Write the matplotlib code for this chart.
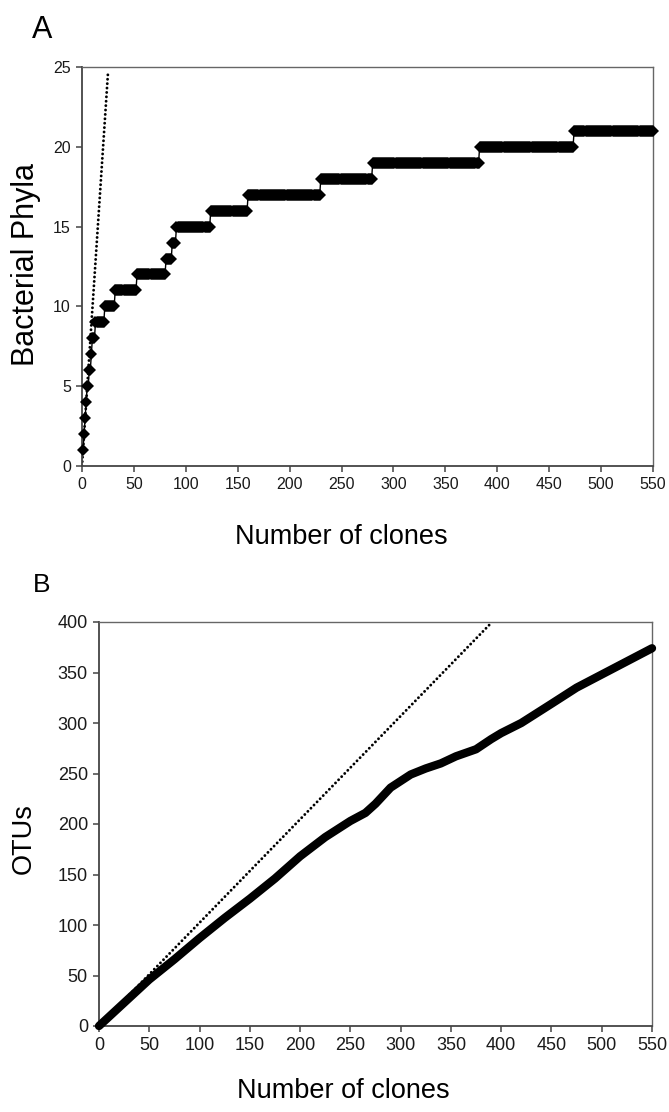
import numpy as np
import matplotlib.pyplot as plt

# Panel A: clone number at which each new phylum level is first reached
phyla_levels = list(range(1, 22))
phyla_first_clone = [1, 2, 3, 4, 5, 7, 9, 10, 13, 22, 32, 53, 81, 87, 91,
                     124, 160, 230, 280, 383, 474]
total_clones = 550

# Panel B: OTU accumulation
otu_clones = [0, 25, 50, 75, 100, 125, 150, 175, 200, 225, 250, 265, 275,
              290, 310, 325, 340, 355, 375, 390, 400, 420, 450, 475, 500,
              525, 550]
otu_counts = [0, 23, 46, 66, 87, 107, 126, 146, 168, 187, 203, 211, 220,
              236, 249, 255, 260, 267, 274, 284, 290, 300, 319, 335, 348,
              361, 374]

# dotted reference lines (start, end)
ref_a_x = [0, 25]
ref_a_y = [0, 24.6]
ref_b_x = [0, 391]
ref_b_y = [0, 400]

plt.rcParams.update({
    "font.family": ["Liberation Sans", "DejaVu Sans"],
    "axes.edgecolor": "#444444",
    "xtick.color": "#444444",
    "ytick.color": "#444444",
    "xtick.labelcolor": "#1a1a1a",
    "ytick.labelcolor": "#1a1a1a",
})

W, H = 669, 1112
fig = plt.figure(figsize=(W / 100, H / 100), dpi=100)


def style_axes(ax, labelsize):
    for side in ["top", "right"]:
        ax.spines[side].set_linewidth(1.0)
        ax.spines[side].set_color("#666666")
    for side in ["left", "bottom"]:
        ax.spines[side].set_linewidth(1.3)
    ax.tick_params(direction="out", length=4, width=1.1, labelsize=labelsize, pad=4)


def dotted(ax, xs, ys):
    ax.plot(xs, ys, color="black", linewidth=2.1, linestyle=(0, (0.01, 1.5)),
            dash_capstyle="round", zorder=2)


# ---- panel A
axA = fig.add_axes([82 / W, 1 - 466 / H, 571 / W, 399 / H])
clones = np.arange(1, total_clones + 1)
phyla = np.searchsorted(phyla_first_clone, clones, side="right")
axA.plot(clones, phyla, color="black", linewidth=1.0, marker="D",
         markersize=6.3, markeredgewidth=0, clip_on=False, zorder=3)
dotted(axA, ref_a_x, ref_a_y)
axA.set_xlim(0, 550)
axA.set_ylim(0, 25)
axA.set_xticks(range(0, 551, 50))
axA.set_yticks(range(0, 26, 5))
style_axes(axA, 11.5)
axA.set_xlabel("Number of clones", fontsize=19.5)
axA.set_ylabel("Bacterial Phyla", fontsize=22)
axA.xaxis.set_label_coords(0.4536, -0.146)
axA.yaxis.set_label_coords(-0.071, 0.504)
fig.text(32 / W, 1 - 38 / H, "A", fontsize=22, ha="left", va="baseline")

# ---- panel B
axB = fig.add_axes([99 / W, 1 - 1026 / H, 553 / W, 404 / H])
axB.plot(otu_clones, otu_counts, color="black", linewidth=6,
         solid_capstyle="round", solid_joinstyle="round", clip_on=False, zorder=3)
dotted(axB, ref_b_x, ref_b_y)
axB.set_xlim(0, 550)
axB.set_ylim(0, 400)
axB.set_xticks(range(0, 551, 50))
axB.set_yticks(range(0, 401, 50))
style_axes(axB, 13)
axB.set_xlabel("Number of clones", fontsize=19.5)
axB.set_ylabel("OTUs", fontsize=19.5)
axB.xaxis.set_label_coords(0.441, -0.128)
axB.yaxis.set_label_coords(-0.112, 0.465)
fig.text(33 / W, 1 - 592 / H, "B", fontsize=19, ha="left", va="baseline")

fig.savefig("out.png", dpi=100)
